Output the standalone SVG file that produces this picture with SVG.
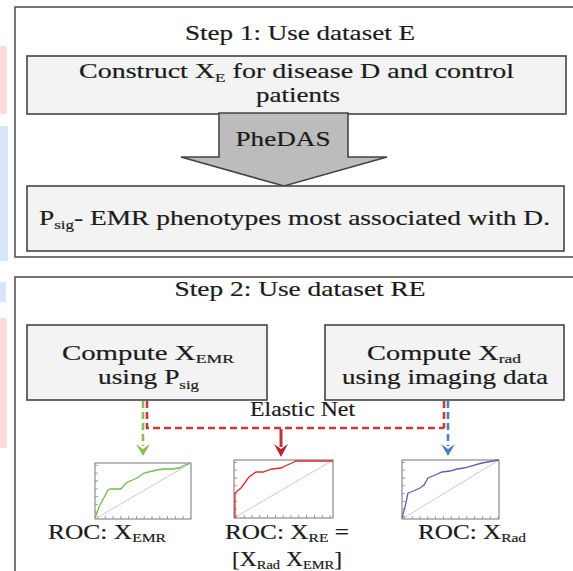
<svg xmlns="http://www.w3.org/2000/svg" width="573" height="571" viewBox="0 0 573 571">
<style>
.frame{fill:#fff;stroke:#555;stroke-width:1.6}
.box{fill:#f2f3f2;stroke:#444;stroke-width:1.6}
.t{font-family:"Liberation Serif","Times New Roman",serif;fill:#1b1b1b;stroke:#1b1b1b;stroke-width:0.2;font-size:22px}
.sub{font-size:13.5px}
.plot{fill:#fff;stroke:#666;stroke-width:0.9}
.tick{stroke:#888;stroke-width:3;stroke-dasharray:0.8 7}
.diag{stroke:#bbb;stroke-width:0.8;fill:none}
.curve{fill:none;stroke-width:1.3}
.dash{fill:none;stroke-width:2.6;stroke-dasharray:7 4}
</style>
<rect width="573" height="571" fill="#fff"/>
<g id="watermark" opacity="0.85">
<rect x="0" y="46" width="7" height="68" fill="#fbd6d9"/>
<rect x="0" y="126" width="8" height="135" fill="#d2e1fb"/>
<rect x="0" y="282" width="6" height="20" fill="#d2e1fb"/>
<rect x="0" y="318" width="7" height="130" fill="#fbd6d9"/>
</g>

<g id="step1">
<rect class="frame" x="15" y="7" width="562" height="250"/>
<text class="t" x="300" y="40" text-anchor="middle" textLength="230" lengthAdjust="spacingAndGlyphs">Step 1: Use dataset E</text>
</g>

<g id="construct">
<rect class="box" x="27" y="56" width="539" height="58"/>
<text class="t" x="79" y="78" textLength="435" lengthAdjust="spacingAndGlyphs">Construct X<tspan class="sub" dy="4">E</tspan><tspan dy="-4">  for disease D and control</tspan></text>
<text class="t" x="298" y="102" text-anchor="middle" textLength="84" lengthAdjust="spacingAndGlyphs">patients</text>
</g>

<g id="phedas">
<polygon points="219,113 348,113 348,157 387,157 284,186 181,157 219,157" fill="#bcbcbc" stroke="#444" stroke-width="1.6"/>
<text class="t" x="283" y="146" text-anchor="middle" font-size="20" textLength="95" lengthAdjust="spacingAndGlyphs">PheDAS</text>
</g>

<g id="psig">
<rect class="box" x="27" y="186" width="537" height="65"/>
<text class="t" x="39" y="225" textLength="511" lengthAdjust="spacingAndGlyphs">P<tspan class="sub" dy="4">sig</tspan><tspan dy="-4">- EMR phenotypes most associated with D.</tspan></text>
</g>

<g id="step2">
<rect class="frame" x="15" y="277" width="562" height="300"/>
<text class="t" x="300" y="296" text-anchor="middle" textLength="251" lengthAdjust="spacingAndGlyphs">Step 2: Use dataset RE</text>
</g>

<g id="compute-emr">
<rect class="box" x="27" y="325" width="240" height="75"/>
<text class="t" x="62" y="360" font-size="25" textLength="172" lengthAdjust="spacingAndGlyphs">Compute X<tspan class="sub" font-size="15" dy="3">EMR</tspan></text>
<text class="t" x="98" y="384" font-size="25" textLength="101" lengthAdjust="spacingAndGlyphs">using P<tspan class="sub" font-size="15" dy="5">sig</tspan></text>
</g>

<g id="compute-rad">
<rect class="box" x="325" y="325" width="239" height="75"/>
<text class="t" x="367" y="360" font-size="25" textLength="154" lengthAdjust="spacingAndGlyphs">Compute X<tspan class="sub" font-size="15" dy="3">rad</tspan></text>
<text class="t" x="342" y="384" font-size="25" textLength="206" lengthAdjust="spacingAndGlyphs">using imaging data</text>
</g>

<g id="connectors">
<path class="dash" stroke="#8cbd4c" d="M143,401 V446"/>
<path class="dash" stroke="#4a80c8" d="M448,401 V446"/>
<path class="dash" stroke="#c9383c" d="M147,401 V428 H444 M444,401 V428"/>
<path d="M281,429 V447" stroke="#c0353a" stroke-width="3" fill="none"/>
<polygon points="136,444 143,449 150,444 143,456" fill="#8cbd4c"/>
<polygon points="274,444 281,449 288,444 281,457" fill="#b3262c"/>
<polygon points="441,444 448,449 455,444 448,456" fill="#4a80c8"/>
<text class="t" x="250" y="416" font-size="21" textLength="105" lengthAdjust="spacingAndGlyphs">Elastic Net</text>
</g>

<g id="roc-emr">
<rect class="plot" x="95" y="463" width="96" height="56"/>
<line class="tick" x1="96.5" y1="465" x2="96.5" y2="519"/>
<line class="tick" x1="97" y1="517.5" x2="191" y2="517.5"/>
<line class="diag" x1="95" y1="519" x2="191" y2="463"/>
<polyline class="curve" stroke="#6fbf4a" points="95,518 99,507 108,490 110,489 121,489 126,483 137,478 144,473 157,470 163,469 172,469 179,468 185,465 191,463"/>
<text class="t" x="48" y="539" textLength="118" lengthAdjust="spacingAndGlyphs">ROC: X<tspan class="sub" dy="3">EMR</tspan></text>
</g>

<g id="roc-re">
<rect class="plot" x="234" y="460" width="99" height="58"/>
<line class="tick" x1="235.5" y1="462" x2="235.5" y2="518"/>
<line class="tick" x1="236" y1="516.5" x2="333" y2="516.5"/>
<line class="diag" x1="234" y1="518" x2="333" y2="460"/>
<polyline class="curve" stroke="#e0282e" points="235,518 235,493 241,488 249,477 256,472 263,472 272,469 281,468 285,466 292,463 296,461 333,461"/>
<text class="t" x="225" y="539" textLength="124" lengthAdjust="spacingAndGlyphs">ROC:  X<tspan class="sub" dy="3">RE</tspan><tspan dy="-3"> =</tspan></text>
<text class="t" x="232" y="566" textLength="110" lengthAdjust="spacingAndGlyphs">[X<tspan class="sub" dy="3">Rad</tspan><tspan dy="-3"> X</tspan><tspan class="sub" dy="3">EMR</tspan><tspan dy="-3">]</tspan></text>
</g>

<g id="roc-rad">
<rect class="plot" x="402" y="460" width="97" height="59"/>
<line class="tick" x1="403.5" y1="462" x2="403.5" y2="519"/>
<line class="tick" x1="404" y1="517.5" x2="499" y2="517.5"/>
<line class="diag" x1="402" y1="519" x2="499" y2="460"/>
<polyline class="curve" stroke="#5b5fb8" points="402,518 405,507 408,493 411,492 420,488 424,485 428,478 435,475 442,472 450,471 457,469 464,468 471,466 482,463 493,461 499,460"/>
<text class="t" x="418" y="539" textLength="108" lengthAdjust="spacingAndGlyphs">ROC: X<tspan class="sub" dy="3">Rad</tspan></text>
</g>
</svg>
